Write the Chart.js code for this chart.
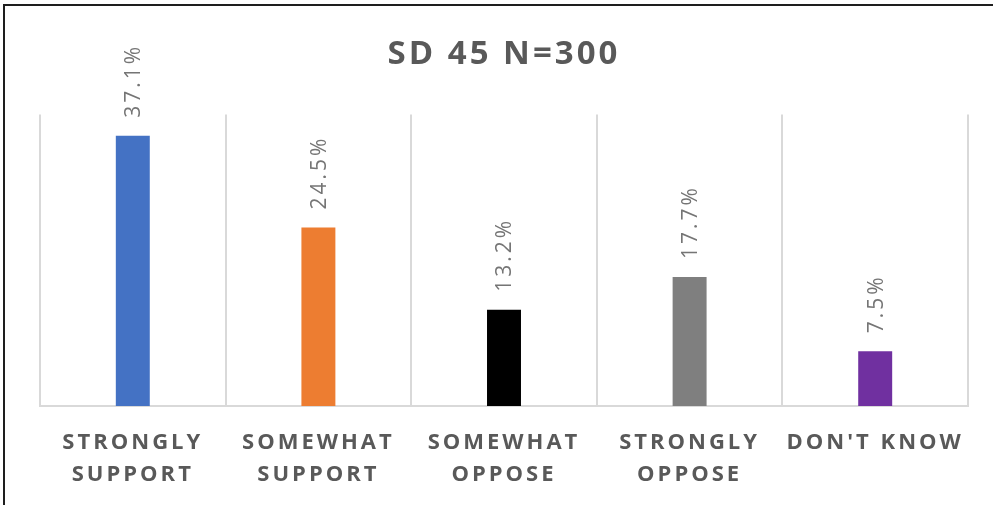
<!DOCTYPE html>
<html><head><meta charset="utf-8">
<script src="https://cdn.jsdelivr.net/npm/chart.js@4/dist/chart.umd.min.js"></script>
<style>
html,body{margin:0;padding:0;background:#fff;overflow:hidden}
#wrap{position:relative;width:993px;height:505px;background:#fff}
#frame{position:absolute;left:3px;top:4px;right:0;bottom:0;border-top:2px solid #1e1e1e;border-left:2px solid #1e1e1e;pointer-events:none}
</style></head><body>
<div id="wrap"><canvas id="c" width="993" height="505"></canvas><div id="frame"></div></div>
<script>
const titleText = 'SD 45 N=300';
const categories = [['STRONGLY','SUPPORT'],['SOMEWHAT','SUPPORT'],['SOMEWHAT','OPPOSE'],['STRONGLY','OPPOSE'],["DON'T KNOW"]];
const values = [37.1, 24.5, 13.2, 17.7, 7.5];
const valueLabels = ['37.1%','24.5%','13.2%','17.7%','7.5%'];
const barColors = ['#4472C4','#ED7D31','#000000','#7F7F7F','#7030A0'];
const yMin = 0, yMax = 40;

const spacingPlugin = {
  id: 'spacing',
  beforeDraw(chart){ chart.ctx.letterSpacing = '3px'; }
};
const valueLabelPlugin = {
  id: 'valueLabels',
  afterDatasetsDraw(chart){
    const ctx = chart.ctx;
    const meta = chart.getDatasetMeta(0);
    ctx.save();
    ctx.font = '21px "Open Sans"';
    ctx.letterSpacing = '3px';
    ctx.fillStyle = '#757575';
    ctx.textAlign = 'left';
    ctx.textBaseline = 'middle';
    meta.data.forEach((bar, i) => {
      ctx.save();
      ctx.translate(bar.x, bar.y - 18);
      ctx.rotate(-Math.PI / 2);
      ctx.fillText(valueLabels[i], 0, 1.5);
      ctx.restore();
    });
    ctx.restore();
  }
};

new Chart(document.getElementById('c'), {
  type: 'bar',
  data: {
    labels: categories,
    datasets: [{
      data: values,
      backgroundColor: barColors,
      borderWidth: 0,
      categoryPercentage: 1,
      barPercentage: 0.183
    }]
  },
  options: {
    responsive: false,
    animation: false,
    layout: { padding: { left: 40, right: 25, top: 0, bottom: 14 } },
    plugins: {
      legend: { display: false },
      tooltip: { enabled: false },
      title: {
        display: true,
        text: titleText,
        color: '#595959',
        font: { family: 'Open Sans', size: 33, weight: 'bold' },
        padding: { top: 35, bottom: 40 }
      }
    },
    scales: {
      x: {
        afterFit(scale){ scale.height = 85; },
        grid: { offset: true, color: '#d9d9d9', lineWidth: 2, drawTicks: false },
        border: { color: '#d9d9d9', width: 2 },
        ticks: {
          color: '#595959',
          font: { family: 'Open Sans', size: 22, weight: 'bold', lineHeight: 1.477 },
          padding: 20,
          maxRotation: 0,
          autoSkip: false
        }
      },
      y: {
        display: false,
        min: yMin,
        max: yMax
      }
    }
  },
  plugins: [spacingPlugin, valueLabelPlugin]
});
</script>
</body></html>
